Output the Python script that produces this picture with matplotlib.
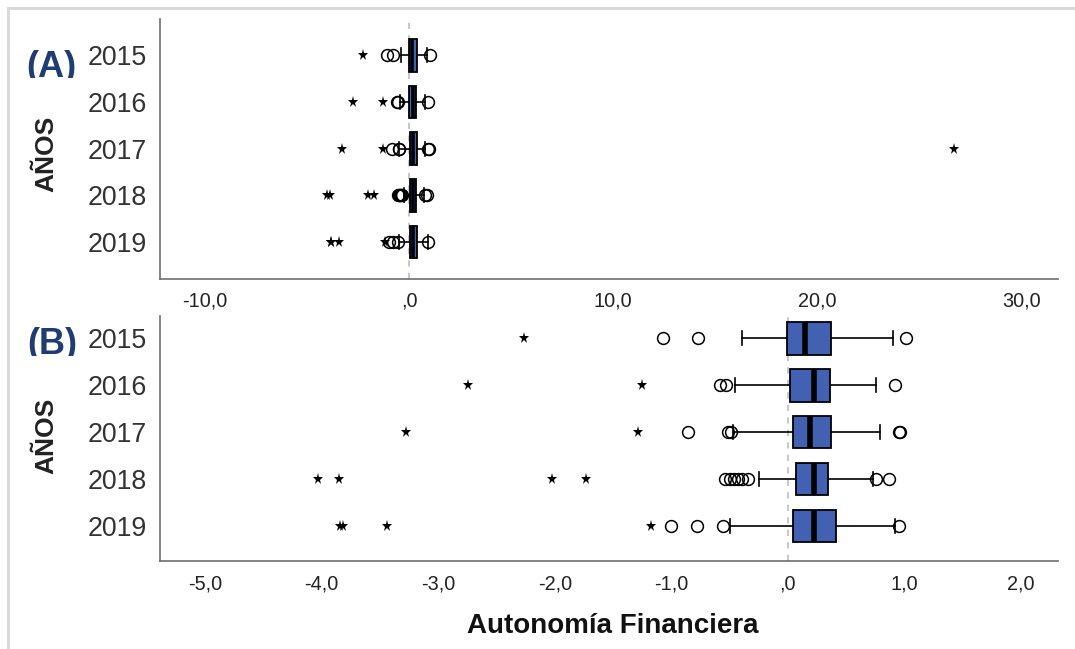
import matplotlib
matplotlib.use("Agg")
import matplotlib.pyplot as plt
from matplotlib.lines import Line2D
from matplotlib.transforms import Bbox, TransformedBbox

plt.rcParams['font.family'] = ['Liberation Sans', 'DejaVu Sans']

years = ['2015', '2016', '2017', '2018', '2019']
q1 = [-0.01, 0.02, 0.04, 0.07, 0.045]
med = [0.15, 0.22, 0.19, 0.22, 0.22]
q3 = [0.37, 0.36, 0.37, 0.34, 0.41]
whislo = [-0.39, -0.45, -0.47, -0.25, -0.50]
whishi = [0.90, 0.76, 0.79, 0.73, 0.92]
# outliers (circles) and extreme values (stars) per year
circles = [
    [-1.07, -0.77, 1.01],
    [-0.58, -0.53, 0.92],
    [-0.855, -0.51, -0.49, 0.95, 0.96],
    [-0.54, -0.50, -0.46, -0.43, -0.39, -0.34, 0.76, 0.87],
    [-1.00, -0.78, -0.56, 0.95],
]
stars = [
    [-2.26],
    [-2.74, -1.25],
    [-3.28, -1.29, 26.7],
    [-4.03, -3.85, -2.02, -1.73],
    [-3.84, -3.82, -3.44, -1.17],
]

ticks_a = [-10, 0, 10, 20, 30]
ticks_b = [-5, -4, -3, -2, -1, 0, 1, 2]


def fmt(v):
    s = f"{v:.1f}".replace('.', ',')
    return s.replace('0,', ',', 1) if s.startswith('0,') else s


fig = plt.figure(figsize=(10.75, 6.49), dpi=100)
fig.patch.set_facecolor('white')

# light frame on top and left
fig.add_artist(Line2D([8 / 1075, 8 / 1075], [0, 1 - 8 / 649], transform=fig.transFigure,
                      color='#d9d9d9', lw=2.2))
fig.add_artist(Line2D([8 / 1075, 1], [1 - 8 / 649, 1 - 8 / 649], transform=fig.transFigure,
                      color='#d9d9d9', lw=2.2))

ax_a = fig.add_axes([160 / 1075, 1 - 279 / 649, 898 / 1075, 260 / 649])
ax_b = fig.add_axes([160 / 1075, 1 - 561 / 649, 898 / 1075, 245 / 649])

stats = []
for i, y in enumerate(years):
    stats.append(dict(label=y, med=med[i], q1=q1[i], q3=q3[i],
                      whislo=whislo[i], whishi=whishi[i], fliers=[]))

pos = list(range(1, len(years) + 1))

for ax, xlim, ylim, ticks, pad, mlw in [
    (ax_a, (-12.2, 31.8), (5.79, 0.22), ticks_a, 9, 2.6),
    (ax_b, (-5.386, 2.317), (5.745, 0.53), ticks_b, 10, 4),
]:
    ax.axvline(0, color='#c8c8c8', lw=1.5, ls=(0, (3, 3)), zorder=0)
    ax.bxp(stats, positions=pos, widths=0.7, capwidths=0.3, orientation='horizontal',
           patch_artist=True, showfliers=False,
           boxprops=dict(facecolor='#4261b3', edgecolor='black', lw=1.3),
           medianprops=dict(color='black', lw=mlw, solid_capstyle='butt'),
           whiskerprops=dict(color='black', lw=1.2),
           capprops=dict(color='black', lw=1.2))
    for i, p in enumerate(pos):
        ax.plot(circles[i], [p] * len(circles[i]), ls='none', marker='o', ms=8.5,
                mfc='none', mec='black', mew=1.1, zorder=4)
        ax.plot(stars[i], [p] * len(stars[i]), ls='none', marker='*', ms=8.3,
                color='black', mew=0, zorder=4)
    ax.set_xlim(*xlim)
    ax.set_ylim(*ylim)
    ax.set_xticks(ticks)
    ax.set_xticklabels([fmt(t) for t in ticks])
    ax.set_yticks(pos)
    ax.set_yticklabels(years)
    ax.tick_params(axis='x', length=0, pad=pad, labelsize=14.3, labelcolor='#222222')
    ax.tick_params(axis='y', length=0, pad=9.5, labelsize=19.3, labelcolor='#333333')
    for s in ['top', 'right']:
        ax.spines[s].set_visible(False)
    for s in ['left', 'bottom']:
        ax.spines[s].set_color('#6e6e6e')
        ax.spines[s].set_linewidth(1.2)

fig.text(46 / 1075, 1 - 154 / 649, 'AÑOS', rotation=90, fontsize=19, fontweight='bold',
         ha='center', va='center', color='#222222')
fig.text(46 / 1075, 1 - 436 / 649, 'AÑOS', rotation=90, fontsize=19, fontweight='bold',
         ha='center', va='center', color='#222222')
fig.text(613 / 1075, 1 - 626 / 649, 'Autonomía Financiera', fontsize=20, fontweight='bold',
         ha='center', va='center', color='#111111')

# panel letters, cut at the baseline
for label, x, base in [('(A)', 26, 77), ('(B)', 27.5, 354.5)]:
    t = fig.text(x / 1075, 1 - base / 649, label, fontsize=26, fontweight='bold',
                 ha='left', va='baseline', color='#1f3d73')
    clip = Bbox.from_extents(0, 1 - (base + 1) / 649, 0.2, 1 - (base - 40) / 649)
    t.set_clip_box(TransformedBbox(clip, fig.transFigure))
    t.set_clip_on(True)

fig.savefig('out.png', dpi=100, facecolor='white')
